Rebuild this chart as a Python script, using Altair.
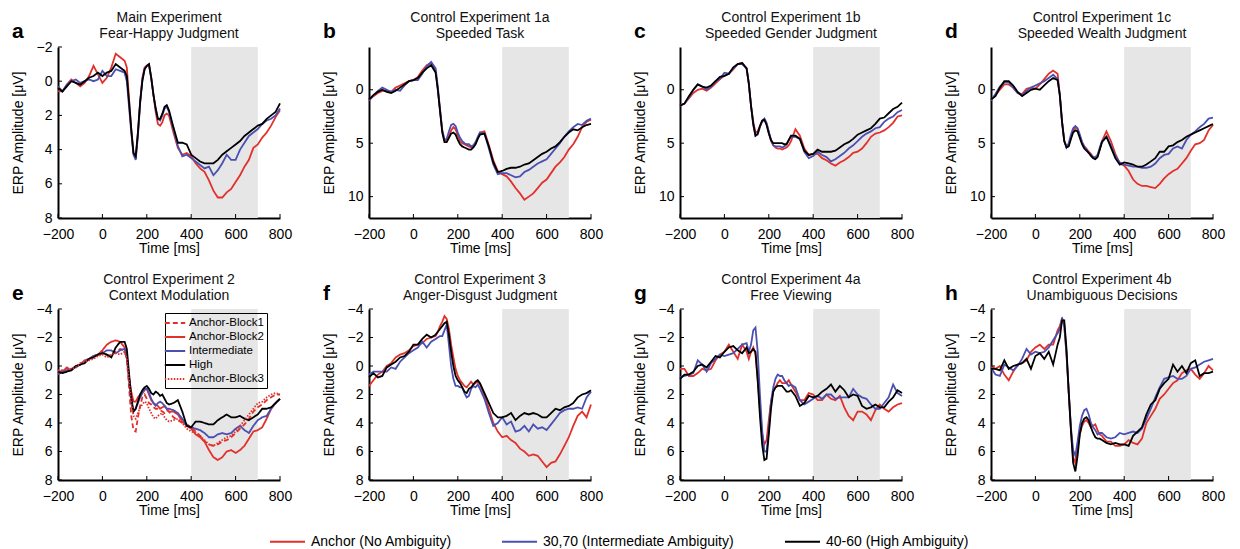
import altair as alt
import pandas as pd

# time grid (ms)
T = list(range(-200, 101, 20)) + list(range(110, 301, 10)) + list(range(320, 801, 20))

# ---------- panel a ----------
A_RED = [0.6, 0.6, 0.2, -0.1, 0.1, 0.3, 0.1, -0.3, -0.9, -0.4, 0.1, -0.2, -0.8, -1.6, -1.4, -1.2,
         -0.8, 1.0, 2.8, 4.2, 4.5, 3.0, 1.2, -0.2, -0.8, -0.9, -1.0, -0.2, 0.8, 1.8, 2.5, 2.6, 2.4, 2.0, 1.9, 2.0,
         3.0, 3.9, 4.3, 4.2, 4.4, 4.8, 5.1, 5.3, 5.8, 6.4, 6.8, 6.8, 6.5, 6.3, 5.9, 5.5, 5.0, 4.6, 3.9, 3.7, 3.3, 3.0, 2.6, 2.1, 1.7]
A_BLUE = [0.3, 0.6, 0.2, 0.0, -0.1, 0.1, 0.0, -0.1, 0.0, -0.1, -0.6, -0.3, -0.3, -0.7, -0.6, -0.5,
          0.0, 1.5, 3.0, 4.3, 4.6, 3.2, 1.3, -0.1, -0.7, -0.9, -0.9, -0.2, 0.8, 1.6, 2.2, 2.3, 2.0, 1.6, 1.5, 1.8,
          2.8, 3.8, 4.4, 4.3, 4.5, 4.7, 4.9, 5.1, 5.0, 5.5, 5.2, 4.8, 4.3, 4.6, 4.6, 4.0, 3.6, 3.2, 3.0, 2.8, 2.5, 2.3, 2.2, 2.0, 1.6]
A_BLACK = [0.4, 0.6, 0.3, 0.0, 0.1, 0.2, 0.0, -0.2, -0.3, -0.5, -0.3, -0.5, -0.6, -1.0, -0.8, -0.6,
           -0.3, 1.2, 2.8, 4.2, 4.4, 3.0, 1.2, 0.0, -0.7, -0.9, -1.0, -0.2, 0.8, 1.6, 2.2, 2.2, 1.9, 1.5, 1.4, 1.7,
           2.7, 3.6, 3.6, 3.7, 4.3, 4.5, 4.7, 4.8, 4.8, 4.8, 4.6, 4.3, 4.1, 3.9, 3.7, 3.5, 3.2, 3.0, 2.8, 2.6, 2.5, 2.2, 2.0, 1.8, 1.3]

# ---------- panel b ----------
B_RED = [1.0, 0.6, 0.3, 0.1, 0.1, 0.2, -0.2, -0.4, -0.6, -0.8, -0.9, -1.2, -1.8, -2.3, -2.5, -1.8,
         0.0, 2.0, 3.8, 4.7, 4.8, 4.4, 3.8, 3.5, 3.7, 4.3, 4.8, 5.0, 5.1, 5.2, 5.3, 5.4, 5.3, 5.0, 4.5, 4.0,
         3.9, 5.2, 6.6, 7.6, 7.9, 8.1, 8.6, 9.2, 9.7, 10.3, 10.0, 9.7, 9.2, 8.7, 8.4, 7.8, 7.2, 6.8, 6.3, 5.6, 5.1, 4.4, 3.5, 3.0, 2.8]
B_BLUE = [1.0, 0.5, 0.1, -0.2, 0.0, 0.2, 0.0, 0.1, -0.4, -0.8, -0.9, -0.9, -1.5, -2.2, -2.6, -2.0,
          -0.3, 1.8, 3.8, 4.7, 4.6, 3.9, 3.3, 3.2, 3.4, 4.0, 4.5, 4.8, 5.0, 5.1, 5.1, 5.3, 5.2, 4.9, 4.4, 4.0,
          4.1, 5.5, 7.0, 7.9, 7.8, 7.8, 8.0, 8.2, 8.1, 7.7, 7.5, 7.2, 6.9, 6.7, 6.5, 6.0, 5.5, 5.0, 4.4, 3.9, 3.5, 3.2, 3.3, 2.9, 2.7]
B_BLACK = [0.9, 0.5, 0.2, 0.0, 0.2, 0.3, 0.1, -0.2, -0.5, -0.8, -0.9, -1.1, -1.6, -2.0, -2.3, -1.6,
           0.0, 2.0, 4.0, 4.9, 4.9, 4.5, 4.1, 4.0, 4.2, 4.7, 5.1, 5.3, 5.4, 5.5, 5.6, 5.6, 5.4, 5.1, 4.6, 4.2,
           4.1, 5.3, 6.8, 7.7, 7.6, 7.4, 7.3, 7.3, 7.2, 7.0, 6.9, 6.6, 6.3, 6.0, 5.8, 5.5, 5.3, 4.9, 4.4, 4.0, 3.7, 3.8, 3.5, 3.3, 3.2]

# ---------- panel c ----------
C_RED = [1.5, 1.3, 0.8, 0.3, 0.0, -0.1, 0.1, -0.2, -0.6, -1.0, -1.3, -1.5, -1.9, -2.4, -2.5, -2.0,
         -0.5, 1.5, 3.0, 4.0, 3.9, 3.4, 3.0, 2.8, 3.2, 4.0, 4.8, 5.2, 5.4, 5.5, 5.5, 5.6, 5.5, 5.4, 5.2, 4.8,
         3.7, 4.3, 5.5, 6.1, 6.0, 6.0, 6.4, 6.6, 6.9, 7.1, 6.8, 6.6, 6.3, 5.9, 5.8, 5.5, 5.0, 4.4, 4.1, 4.0, 3.8, 3.5, 3.1, 2.5, 2.4]
C_BLUE = [1.5, 1.3, 0.7, 0.0, -0.5, -0.3, 0.0, -0.3, -0.8, -1.0, -1.6, -1.5, -2.0, -2.4, -2.4, -2.0,
          -0.6, 1.5, 3.3, 4.3, 4.2, 3.5, 2.9, 2.7, 3.1, 3.9, 4.7, 5.2, 5.3, 5.3, 5.3, 5.4, 5.3, 5.1, 4.7, 4.4,
          4.4, 4.6, 5.8, 6.4, 6.2, 5.8, 6.1, 6.3, 6.7, 6.5, 6.2, 5.9, 5.5, 5.2, 4.8, 4.4, 4.1, 3.9, 3.6, 3.5, 3.0, 2.7, 2.5, 2.1, 1.9]
C_BLACK = [1.5, 1.3, 0.6, 0.0, -0.5, -0.3, -0.2, -0.4, -0.8, -1.2, -1.3, -1.5, -2.1, -2.4, -2.5, -2.0,
           -0.6, 1.5, 3.2, 4.3, 4.1, 3.4, 2.9, 2.8, 3.3, 4.1, 4.7, 5.0, 5.0, 5.0, 5.0, 5.0, 5.1, 5.1, 4.7, 4.3,
           4.3, 4.6, 5.7, 6.1, 6.0, 5.6, 5.8, 5.8, 5.8, 5.7, 5.4, 5.1, 4.9, 4.6, 4.2, 4.0, 3.8, 3.6, 3.2, 2.7, 2.6, 2.2, 1.8, 1.6, 1.2]

# ---------- panel d ----------
D_RED = [1.0, 0.5, 0.0, -0.5, -0.5, -0.2, 0.3, 0.4, -0.1, -0.2, -0.1, -0.5, -1.0, -1.5, -1.8, -1.5,
         0.5, 3.0, 4.8, 5.3, 5.2, 4.5, 3.8, 3.5, 3.7, 4.3, 4.9, 5.3, 5.5, 5.8, 6.0, 6.3, 6.4, 6.2, 5.6, 4.8,
         3.9, 4.8, 6.0, 6.9, 7.1, 7.6, 8.4, 8.8, 9.0, 9.0, 9.1, 9.2, 8.8, 8.3, 7.9, 7.6, 7.4, 6.9, 6.4, 5.7, 5.1, 5.0, 4.7, 3.8, 3.3]
D_BLUE = [1.0, 0.4, -0.3, -0.7, -0.7, -0.2, 0.3, 0.5, 0.1, -0.2, -0.4, -0.6, -0.8, -1.1, -1.4, -1.0,
          0.5, 3.0, 4.8, 5.4, 5.0, 4.2, 3.6, 3.4, 3.6, 4.2, 4.9, 5.3, 5.6, 5.9, 6.1, 6.3, 6.3, 6.1, 5.4, 4.8,
          4.4, 5.2, 6.2, 6.8, 7.0, 7.1, 7.2, 7.2, 7.3, 7.3, 7.2, 6.9, 6.4, 6.1, 6.0, 5.5, 5.3, 5.5, 4.7, 4.2, 3.9, 3.5, 3.2, 2.7, 2.6]
D_BLACK = [0.9, 0.6, -0.2, -0.8, -0.8, -0.4, 0.2, 0.6, 0.3, 0.0, -0.1, 0.0, -0.4, -0.8, -1.1, -0.9,
           0.5, 3.0, 4.8, 5.4, 5.3, 4.6, 4.0, 3.8, 3.9, 4.5, 5.1, 5.5, 5.7, 5.9, 6.2, 6.4, 6.5, 6.3, 5.6, 4.9,
           4.4, 5.4, 6.4, 7.0, 6.8, 6.9, 7.0, 7.2, 7.2, 7.0, 6.7, 6.4, 5.8, 5.8, 5.3, 5.2, 4.9, 4.7, 4.4, 4.2, 4.0, 3.8, 3.6, 3.4, 3.2]

# ---------- panel e ----------
E_BLOCK1 = [0.4, 0.4, 0.1, 0.3, 0.0, -0.1, -0.3, -0.5, -0.7, -0.8, -1.0, -0.8, -0.7, -1.0, -1.2, -1.1,
            -0.5, 1.5, 3.5, 4.5, 4.6, 3.6, 2.8, 2.2, 2.0, 2.3, 2.6, 2.7, 2.9, 3.0, 3.0, 3.1, 3.2, 3.3, 3.1, 3.2,
            3.6, 3.8, 4.0, 4.1, 4.3, 4.6, 4.9, 5.3, 5.5, 5.6, 5.5, 5.3, 5.2, 5.0, 4.7, 4.4, 4.1, 3.7, 3.2, 2.9, 2.7, 2.4, 2.2, 2.0, 2.0]
E_BLOCK2 = [0.5, 0.3, 0.3, 0.3, 0.0, -0.1, -0.4, -0.5, -0.7, -0.8, -1.1, -1.5, -1.7, -1.8, -1.7, -1.3,
            -0.5, 0.8, 1.8, 2.5, 2.5, 2.2, 2.0, 1.9, 1.7, 1.6, 2.0, 2.4, 2.6, 2.7, 2.8, 3.0, 2.9, 2.8, 3.0, 3.2,
            3.2, 3.4, 3.9, 4.2, 4.4, 4.8, 5.0, 5.3, 5.9, 6.4, 6.6, 6.4, 6.0, 5.9, 6.1, 5.9, 5.6, 5.1, 4.6, 4.5, 4.3, 3.7, 3.0, 2.6, 2.3]
E_INTER = [0.6, 0.4, 0.3, 0.2, 0.1, -0.1, -0.3, -0.5, -0.7, -0.8, -0.9, -1.1, -1.1, -0.9, -1.1, -1.2,
           -0.8, 1.0, 2.5, 3.2, 3.0, 2.6, 2.2, 1.9, 1.6, 1.6, 1.9, 2.3, 2.6, 2.8, 2.6, 2.5, 2.6, 2.8, 3.0, 3.0,
           3.1, 3.3, 3.7, 4.2, 4.3, 4.4, 4.5, 4.7, 5.0, 5.0, 4.8, 4.7, 4.8, 4.7, 4.4, 4.2, 4.5, 4.7, 4.2, 3.8, 3.6, 3.5, 3.0, 2.6, 2.3]
E_HIGH = [0.4, 0.5, 0.4, 0.3, 0.0, -0.1, -0.2, -0.5, -0.6, -0.8, -0.9, -0.8, -0.6, -1.3, -1.7, -1.7,
          -1.2, 0.5, 2.2, 3.2, 3.0, 2.5, 2.0, 1.7, 1.5, 1.4, 1.6, 1.9, 2.0, 1.8, 1.9, 2.1, 2.0, 2.3, 2.6, 2.7,
          2.6, 2.4, 3.2, 4.2, 4.3, 3.9, 3.9, 4.0, 4.1, 4.1, 3.8, 3.6, 3.4, 3.6, 3.6, 3.5, 3.7, 3.8, 3.6, 3.4, 3.0, 3.0, 2.9, 2.6, 2.3]
E_BLOCK3 = [0.3, 0.3, 0.2, 0.2, 0.1, -0.2, -0.3, -0.4, -0.5, -0.7, -0.8, -0.6, -0.8, -0.9, -0.8, -1.0,
            -0.5, 1.0, 2.6, 3.5, 3.7, 3.3, 2.9, 2.7, 2.5, 2.6, 3.0, 3.3, 3.6, 3.7, 3.5, 3.4, 3.3, 3.6, 3.8, 3.9,
            3.8, 3.7, 4.0, 4.4, 4.6, 4.7, 4.9, 5.2, 5.5, 5.6, 5.4, 5.2, 5.0, 4.9, 4.6, 4.2, 3.8, 3.4, 3.0, 2.6, 2.5, 2.2, 2.0, 1.9, 2.0]

# ---------- panel f ----------
F_RED = [1.4, 1.0, 0.6, 0.4, 0.0, -0.2, -0.6, -0.8, -0.9, -1.1, -1.4, -1.5, -1.6, -1.9, -2.0, -2.1,
         -2.4, -2.8, -3.1, -3.5, -3.3, -2.6, -1.5, -0.6, 0.2, 0.7, 1.0, 1.2, 1.4, 1.5, 1.3, 1.1, 1.3, 1.2, 1.1, 1.3,
         2.1, 3.0, 4.0, 4.6, 5.0, 4.9, 5.2, 5.4, 5.8, 6.0, 6.3, 6.2, 6.3, 6.7, 7.1, 6.8, 6.7, 6.2, 5.6, 5.0, 4.2, 3.5, 3.2, 3.6, 2.7]
F_BLUE = [0.6, 0.4, 0.4, 0.4, 0.4, 0.1, 0.2, -0.3, -0.6, -0.9, -1.1, -1.3, -1.7, -1.3, -1.7, -1.9,
          -2.0, -2.1, -2.1, -2.5, -2.9, -1.5, 0.0, 0.9, 1.4, 1.4, 1.5, 1.5, 1.9, 2.2, 2.1, 1.6, 1.4, 1.5, 1.3, 1.6,
          2.3, 3.3, 4.2, 4.0, 3.6, 4.1, 3.9, 4.6, 4.5, 4.2, 4.6, 4.1, 4.4, 4.3, 4.5, 4.1, 3.7, 3.3, 3.1, 3.0, 3.0, 2.9, 3.0, 2.2, 1.8]
F_BLACK = [0.8, 0.5, 0.8, 0.7, 0.1, -0.1, -0.3, -0.6, -0.7, -1.0, -1.5, -1.5, -1.9, -2.2, -2.0, -2.2,
           -2.4, -2.6, -2.8, -3.0, -3.1, -2.2, -1.0, 0.0, 0.7, 1.0, 1.2, 1.5, 1.8, 1.9, 1.6, 1.5, 1.3, 1.1, 1.0, 1.2,
           1.9, 2.6, 3.3, 3.6, 3.6, 3.5, 3.3, 3.8, 3.5, 3.3, 3.4, 3.3, 3.4, 3.6, 3.6, 3.3, 3.0, 3.1, 2.9, 2.8, 2.6, 2.2, 2.0, 1.9, 1.7]

# ---------- panel g ----------
G_RED = [0.2, 0.2, 0.7, 0.7, 0.5, 0.2, 0.3, 0.2, -0.4, -0.8, -1.0, -1.5, -1.0, -0.5, -1.5, -1.0,
         -0.5, -1.0, -1.3, -0.8, 1.0, 3.0, 4.8, 5.5, 5.2, 3.8, 2.5, 1.8, 1.5, 1.2, 1.0, 1.2, 1.2, 1.2, 1.0, 1.3,
         1.8, 2.4, 2.4, 1.9, 2.0, 2.4, 2.4, 2.0, 2.3, 2.4, 2.1, 2.9, 3.5, 3.8, 3.2, 3.2, 3.4, 3.8, 3.1, 2.7, 3.0, 3.2, 2.9, 2.7, 2.6]
G_BLUE = [0.8, 0.7, 0.6, 0.5, -0.4, -0.1, 0.4, -0.2, -0.5, -0.8, -0.7, -0.8, -0.9, -1.2, -1.5, -1.6,
          -1.0, -1.5, -2.5, -2.7, -1.0, 2.0, 4.5, 6.0, 6.0, 4.5, 2.5, 1.5, 0.9, 0.6, 0.7, 0.7, 1.0, 1.2, 1.4, 1.3,
          1.5, 2.4, 2.7, 2.5, 2.3, 2.1, 2.3, 2.0, 2.0, 2.3, 2.2, 2.2, 2.2, 1.6, 2.0, 2.2, 2.3, 2.7, 3.0, 3.0, 2.6, 2.2, 1.3, 1.9, 2.1]
G_BLACK = [0.9, 0.6, 0.6, 0.4, 0.0, -0.1, 0.1, -0.3, -0.7, -0.6, -1.0, -1.3, -1.4, -1.1, -0.9, -1.3,
           -0.9, -1.0, -1.2, -1.0, 1.0, 3.5, 5.5, 6.6, 6.5, 4.8, 3.0, 1.8, 1.5, 1.4, 1.4, 1.4, 1.6, 1.8, 1.8, 1.7,
           2.1, 2.8, 2.6, 2.1, 2.2, 2.1, 1.8, 1.6, 1.3, 1.8, 1.4, 1.7, 2.2, 2.0, 2.1, 2.8, 3.0, 2.9, 2.7, 2.9, 2.9, 2.5, 2.2, 1.7, 1.9]

# ---------- panel h ----------
H_RED = [0.0, 0.2, 0.0, 0.6, 1.0, 0.4, -0.1, -0.2, -0.4, -1.0, -1.3, -1.5, -1.2, -1.5, -1.5, -2.5,
         -2.8, -3.3, -2.8, -0.8, 1.8, 4.5, 6.4, 6.8, 5.8, 4.8, 4.2, 3.9, 3.8, 4.0, 4.3, 4.2, 4.1, 4.5, 4.8, 4.9,
         5.3, 5.3, 5.6, 5.6, 5.5, 5.2, 5.4, 5.5, 5.1, 4.0, 3.5, 3.0, 2.3, 2.0, 1.6, 1.2, 1.0, 0.5, 0.3, 0.2, 0.6, 0.9, 0.5, 0.0, 0.3]
H_BLUE = [0.1, 0.6, 0.7, -0.1, 0.1, 0.3, 0.0, -0.5, -1.2, -0.8, -1.0, -0.9, -1.0, -1.3, -1.8, -2.3,
          -2.6, -3.4, -2.9, -0.9, 1.8, 4.3, 5.9, 6.3, 5.3, 4.2, 3.5, 3.1, 3.0, 3.4, 4.0, 4.3, 4.5, 4.8, 4.7, 4.7,
          5.0, 5.1, 5.0, 4.7, 4.8, 4.7, 4.6, 4.7, 4.4, 3.7, 3.0, 2.2, 1.5, 0.9, 0.8, 0.7, 0.9, 0.9, 0.7, 0.2, 0.1, -0.1, -0.3, -0.4, -0.5]
H_BLACK = [0.2, 0.2, 0.3, -0.4, 0.2, 0.0, -0.1, -0.2, -0.5, 0.2, -0.7, -0.9, -0.5, -1.0, -0.1, -1.5,
           -2.0, -3.2, -3.2, -1.2, 1.8, 4.5, 6.8, 7.4, 6.3, 4.8, 4.0, 3.7, 3.6, 3.8, 4.3, 4.7, 5.0, 5.1, 5.1, 5.2,
           5.4, 5.5, 5.4, 5.5, 5.5, 5.6, 4.9, 4.6, 4.3, 3.4, 2.7, 2.4, 1.6, 1.2, 0.9, -0.1, 0.4, 0.0, 0.5, -0.2, -0.4, 0.7, 0.5, 0.5, 0.4]

MAIN_NAMES = ["Anchor (No Ambiguity)", "30,70 (Intermediate Ambiguity)", "40-60 (High Ambiguity)"]
E_NAMES = ["Anchor-Block1", "Anchor-Block2", "Intermediate", "High", "Anchor-Block3"]
RED, BLUE, BLACK = "#e2302b", "#4a50b2", "#000000"
MAIN_COLORS = [RED, BLUE, BLACK]
E_COLORS = [RED, RED, BLUE, BLACK, RED]
E_DASH = [[5, 3], [1, 0], [1, 0], [1, 0], [1.5, 1.5]]

XT = [-200, 0, 200, 400, 600, 800]
SHADE = [400, 700]
W, H = 222, 171
FONT = "Liberation Sans"

PANELS = [
    dict(letter="a", title="Main Experiment\nFear-Happy Judgment", series=[A_RED, A_BLUE, A_BLACK],
         ydom=[-2, 8], yticks=[-2, 0, 2, 4, 6, 8]),
    dict(letter="b", title="Control Experiment 1a\nSpeeded Task", series=[B_RED, B_BLUE, B_BLACK],
         ydom=[-4, 12], yticks=[0, 5, 10]),
    dict(letter="c", title="Control Experiment 1b\nSpeeded Gender Judgment", series=[C_RED, C_BLUE, C_BLACK],
         ydom=[-4, 12], yticks=[0, 5, 10]),
    dict(letter="d", title="Control Experiment 1c\nSpeeded Wealth Judgment", series=[D_RED, D_BLUE, D_BLACK],
         ydom=[-4, 12], yticks=[0, 5, 10]),
    dict(letter="e", title="Control Experiment 2\nContext Modulation",
         series=[E_BLOCK1, E_BLOCK2, E_INTER, E_HIGH, E_BLOCK3],
         ydom=[-4, 8], yticks=[-4, -2, 0, 2, 4, 6, 8], ctx=True),
    dict(letter="f", title="Control Experiment 3\nAnger-Disgust Judgment", series=[F_RED, F_BLUE, F_BLACK],
         ydom=[-4, 8], yticks=[-4, -2, 0, 2, 4, 6, 8], main_legend=True),
    dict(letter="g", title="Control Experiment 4a\nFree Viewing", series=[G_RED, G_BLUE, G_BLACK],
         ydom=[-4, 8], yticks=[-4, -2, 0, 2, 4, 6, 8]),
    dict(letter="h", title="Control Experiment 4b\nUnambiguous Decisions", series=[H_RED, H_BLUE, H_BLACK],
         ydom=[-4, 8], yticks=[-4, -2, 0, 2, 4, 6, 8]),
]

for p in PANELS:
    for s in p["series"]:
        assert len(s) == len(T), (p["letter"], len(s))


def make_panel(p):
    ctx = p.get("ctx", False)
    names = E_NAMES if ctx else MAIN_NAMES
    colors = E_COLORS if ctx else MAIN_COLORS
    rows = []
    for k, (name, vals) in enumerate(zip(names, p["series"])):
        for t, v in zip(T, vals):
            rows.append({"t": t, "v": v, "s": name, "k": k})
    df = pd.DataFrame(rows)

    xs = alt.Scale(domain=[-200, 800], nice=False, zero=False)
    ys = alt.Scale(domain=p["ydom"], reverse=True, nice=False, zero=False)
    ax_x = alt.Axis(values=XT, title="Time [ms]", labelFlush=False, labelOverlap=False,
                    labelPadding=9, titlePadding=0)
    ax_y = alt.Axis(values=p["yticks"], title="ERP Amplitude [μV]", labelFlush=False,
                    labelOverlap=False, minExtent=24, maxExtent=24, titlePadding=9)

    shade = alt.Chart(pd.DataFrame({"x0": [SHADE[0]], "x1": [SHADE[1]],
                                    "y0": [p["ydom"][0]], "y1": [p["ydom"][1]]})).mark_rect(
        color="#e6e6e6").encode(
        x=alt.X("x0:Q", scale=xs, axis=ax_x, title="Time [ms]"), x2="x1:Q",
        y=alt.Y("y0:Q", scale=ys, axis=ax_y, title="ERP Amplitude [μV]"), y2="y1:Q")

    if ctx:
        legend = alt.Legend(title=None, orient="none", legendX=107, legendY=4,
                            symbolType="M-1.7,0H1.7", symbolSize=144, symbolStrokeWidth=2,
                            labelFontSize=11.5, labelFont=FONT, labelColor="black", labelOffset=7,
                            strokeColor="black", padding=3, rowPadding=1, labelLimit=200)
    elif p.get("main_legend"):
        legend = alt.Legend(title=None, orient="none", legendX=-100, legendY=214,
                            direction="horizontal", columns=3, symbolType="stroke",
                            symbolSize=1225, symbolStrokeWidth=2, labelFontSize=14,
                            labelFont=FONT, labelColor="black", labelOffset=5,
                            columnPadding=46, padding=0, labelLimit=400)
    else:
        legend = None

    enc = dict(
        x=alt.X("t:Q", scale=xs, axis=ax_x, title="Time [ms]"),
        y=alt.Y("v:Q", scale=ys, axis=ax_y, title="ERP Amplitude [μV]"),
        color=alt.Color("s:N", scale=alt.Scale(domain=names, range=colors), legend=legend, sort=names),
        order=alt.Order("k:Q"),
    )
    if ctx:
        enc["strokeDash"] = alt.StrokeDash("s:N", scale=alt.Scale(domain=names, range=E_DASH),
                                           legend=legend, sort=names)
    lines = alt.Chart(df).mark_line(strokeWidth=1.8).encode(**enc)

    xt = alt.Chart(pd.DataFrame({"xt": XT})).mark_rule(color="black", strokeWidth=1).encode(
        x=alt.X("xt:Q", scale=xs, axis=ax_x, title="Time [ms]"), y=alt.value(H), y2=alt.value(H - 4))
    yt = alt.Chart(pd.DataFrame({"yt": p["yticks"]})).mark_rule(color="black", strokeWidth=1).encode(
        y=alt.Y("yt:Q", scale=ys, axis=ax_y, title="ERP Amplitude [μV]"), x=alt.value(0), x2=alt.value(4))

    ttl = alt.Chart(pd.DataFrame({"ttl": [p["title"]]})).mark_text(
        fontSize=14, font=FONT, align="center", baseline="alphabetic", lineBreak="\n",
        lineHeight=16, color="#111111").encode(
        text="ttl:N", x=alt.value(W / 2), y=alt.value(-25))
    let = alt.Chart(pd.DataFrame({"letter": [p["letter"]]})).mark_text(
        fontSize=21, font=FONT, fontWeight="bold", align="left", baseline="alphabetic",
        color="black").encode(text="letter:N", x=alt.value(-46), y=alt.value(-9))

    return alt.layer(shade, lines, xt, yt, ttl, let).properties(width=W, height=H)


panels = [make_panel(p) for p in PANELS]

chart = alt.concat(*panels, columns=4, spacing={"row": 91, "column": 89}, bounds="flush").resolve_scale(
    color="independent", strokeDash="independent", x="independent", y="independent"
).properties(
    padding={"left": 3, "top": 3, "right": 3, "bottom": 3}
).configure(
    font=FONT
).configure_view(
    stroke=None
).configure_axis(
    labelFont=FONT, titleFont=FONT, labelFontSize=14, titleFontSize=14,
    titleFontWeight="normal", labelColor="black", titleColor="black",
    domainColor="black", domainWidth=2, ticks=False, tickSize=0, grid=False,
    labelPadding=6, labelFlush=False
)

chart.save("out.html", embed_options={"renderer": "svg", "actions": False})
